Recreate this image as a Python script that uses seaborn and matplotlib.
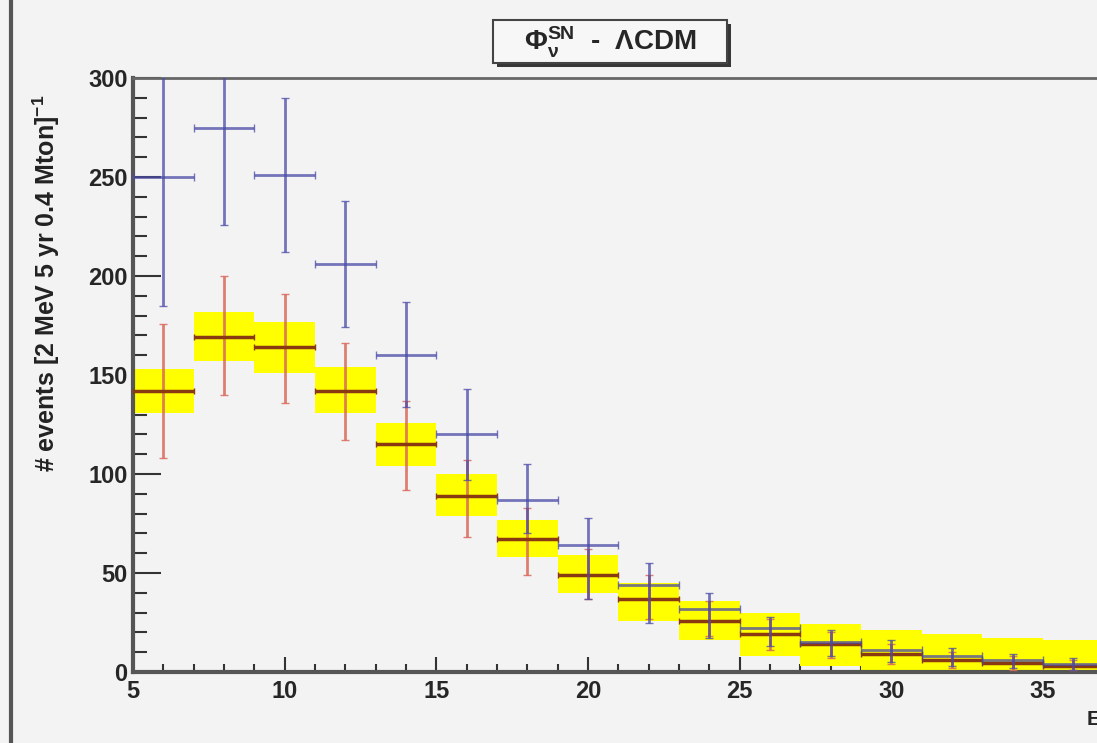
import numpy as np
import matplotlib
matplotlib.use("Agg")
import matplotlib.pyplot as plt
import matplotlib.patheffects as pe
from matplotlib.patches import Rectangle
from matplotlib.ticker import MultipleLocator
import seaborn as sns

# bin centres (2 MeV bins)
energy = [6, 8, 10, 12, 14, 16, 18, 20, 22, 24, 26, 28, 30, 32, 34, 36]

# LCDM prediction (red) with its error bars and the yellow band
lcdm = [142, 169, 164, 142, 115, 89, 67, 49, 37, 26, 19, 14, 9, 6, 4.5, 3]
lcdm_lo = [108, 140, 136, 117, 92, 68, 49, 37, 27, 18, 11, 7, 4, 2, 1, 1]
lcdm_hi = [176, 200, 191, 166, 137, 107, 83, 62, 49, 36, 27, 20, 14, 10, 8, 6]
band_lo = [131, 157, 151, 131, 104, 79, 58, 40, 26, 16, 8, 3, 0, 0, 0, 0]
band_hi = [153, 182, 177, 154, 126, 100, 77, 59, 45, 36, 30, 24, 21, 19, 17, 16]

# alternative model (blue)
alt = [250, 275, 251, 206, 160, 120, 87, 64, 44, 32, 22, 15, 11, 8, 6, 4]
alt_lo = [185, 226, 212, 174, 134, 97, 70, 37, 25, 17, 13, 8, 5, 3, 2, 1]
alt_hi = [330, 330, 290, 238, 187, 143, 105, 78, 55, 40, 28, 21, 16, 12, 9, 7]

sns.set_theme(style="ticks")
plt.rcParams['font.family'] = ['Liberation Sans', 'DejaVu Sans']
plt.rcParams['mathtext.fontset'] = 'custom'
plt.rcParams['mathtext.rm'] = 'Liberation Sans:bold'
plt.rcParams['mathtext.it'] = 'Liberation Sans:bold'
plt.rcParams['mathtext.bf'] = 'Liberation Sans:bold'

bg = '#f3f3f3'
fig = plt.figure(figsize=(10.97, 7.43), dpi=100, facecolor=bg)
ax = fig.add_axes([133 / 1097, 71 / 743, 964 / 1097, 594 / 743], facecolor=bg)

x = np.array(energy, dtype=float)
lc = np.array(lcdm)
bl = np.array(band_lo)
bh = np.array(band_hi)

# yellow uncertainty band
ax.bar(x, bh - bl, bottom=bl, width=2, color='#ffff00', edgecolor='none', zorder=1)

# red: LCDM
ax.errorbar(x, lc, yerr=[lc - np.array(lcdm_lo), np.array(lcdm_hi) - lc],
            fmt='none', ecolor='#d96a5a', elinewidth=2, capsize=3, alpha=0.85, zorder=3)
ax.errorbar(x, lc, xerr=1, fmt='none', ecolor='#8a3a10', elinewidth=2.5,
            capsize=2, zorder=4)

# blue: alternative
a = np.array(alt)
ax.errorbar(x, a, yerr=[a - np.array(alt_lo), np.array(alt_hi) - a], xerr=1,
            fmt='none', ecolor='#4a4aa8', elinewidth=2, capsize=3, alpha=0.75, zorder=5)

ax.set_xlim(5, 36.78)
ax.set_ylim(0, 300)

ax.xaxis.set_major_locator(MultipleLocator(5))
ax.xaxis.set_minor_locator(MultipleLocator(1))
ax.yaxis.set_major_locator(MultipleLocator(50))
ax.yaxis.set_minor_locator(MultipleLocator(10))
ax.tick_params(axis='x', which='major', direction='in', length=11, width=1.5,
               color='#333333', labelsize=17, pad=6)
ax.tick_params(axis='x', which='minor', direction='in', length=6, width=1.5, color='#333333')
ax.tick_params(axis='y', which='major', direction='in', length=20, width=1.5,
               color='#333333', labelsize=17, pad=4)
ax.tick_params(axis='y', which='minor', direction='in', length=10, width=1.5, color='#333333')
for lab in ax.get_xticklabels() + ax.get_yticklabels():
    lab.set_fontweight('bold')

for s in ['left', 'bottom']:
    ax.spines[s].set_linewidth(3)
    ax.spines[s].set_color('#555555')
ax.spines['top'].set_linewidth(2)
ax.spines['top'].set_color('#666666')
ax.spines['right'].set_visible(False)

ax.set_ylabel(r'# events [2 MeV 5 yr 0.4 Mton]$^{-1}$', fontsize=18,
              fontweight='bold', color='#222222')
ax.yaxis.set_label_coords(-0.074, 0.655)

# x-axis title, mostly cut off at the right edge
fig.text(1086 / 1097, 12 / 743, r'E$_\nu$ [MeV]', fontsize=15, fontweight='bold',
         ha='left', va='bottom')

# title box with shadow
box = Rectangle((493 / 1097, 680 / 743), 234 / 1097, 43 / 743, transform=fig.transFigure,
                facecolor='#f7f7f7', edgecolor='#444444', linewidth=1.5, zorder=10)
box.set_path_effects([pe.SimplePatchShadow(offset=(3, -3), shadow_rgbFace='#222222', alpha=0.9),
                      pe.Normal()])
fig.add_artist(box)
fig.text(610 / 1097, 701 / 743, r'$\Phi_{\nu}^{SN}$  -  ΛCDM', fontsize=20,
         fontweight='bold', ha='center', va='center', zorder=11)

# canvas border on the left
fig.add_artist(plt.Line2D([11 / 1097, 11 / 1097], [0, 1], color='#555555',
                          linewidth=3, transform=fig.transFigure))

fig.savefig('out.png', dpi=100, facecolor=bg)
